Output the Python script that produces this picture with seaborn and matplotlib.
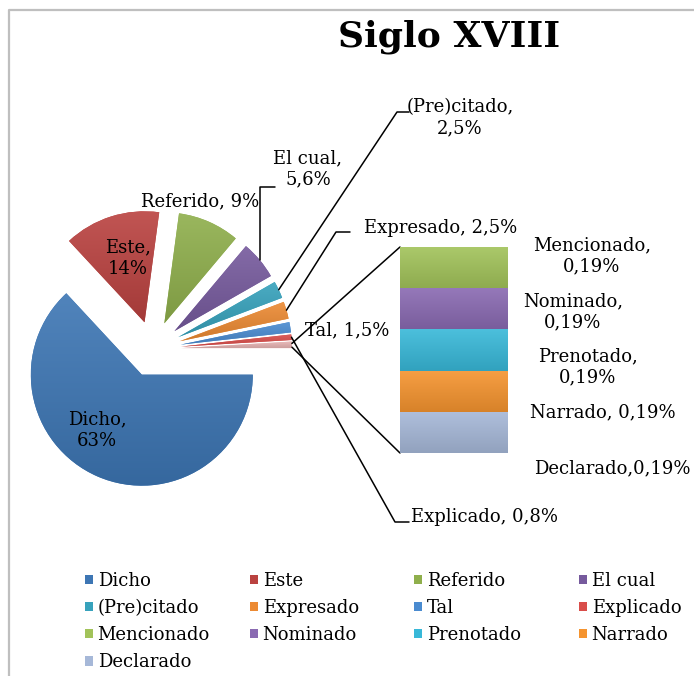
import matplotlib
matplotlib.use("Agg")
import numpy as np
import matplotlib.pyplot as plt
import seaborn as sns
from matplotlib.colors import to_rgb
from matplotlib.patches import Patch

# === Datos (Siglo XVIII)
pie_names = ["Dicho", "Este", "Referido", "El cual", "(Pre)citado",
             "Expresado", "Tal", "Explicado"]
pie_values = [63, 14, 9, 5.6, 2.5, 2.5, 1.5, 0.8]
pie_pct = ["63%", "14%", "9%", "5,6%", "2,5%", "2,5%", "1,5%", "0,8%"]
pie_sep = ["\n", "\n", " ", "\n", "\n", " ", " ", " "]

bar_names = ["Mencionado", "Nominado", "Prenotado", "Narrado", "Declarado"]
bar_values = [0.19, 0.19, 0.19, 0.19, 0.19]
bar_pct = ["0,19%", "0,19%", "0,19%", "0,19%", "0,19%"]
bar_sep = ["\n", "\n", "\n", " ", ""]

# === Estilo
pie_colors = ["#3D76B4", "#BA4240", "#8FAF4C", "#765A9D", "#37A2BC",
              "#EC8A33", "#4A8BD0", "#D94D4A"]
other_color = "#E8B4B3"
bar_colors = ["#A2C35A", "#8A6AB2", "#38B8D8", "#F5942F", "#A6B8D8"]

W, H = 694, 676
FS = 13
sns.set_style("white")
plt.rcParams["font.family"] = ["DejaVu Serif"]
plt.rcParams["text.color"] = "black"

fig = plt.figure(figsize=(W / 100, H / 100), dpi=100)
ax = fig.add_axes([0, 0, 1, 1])


def gradient_fill(axis, patch, color, x0, x1, y_top, y_bot):
    # degradado vertical suave estilo Excel (claro arriba, oscuro abajo)
    c = np.array(to_rgb(color))
    light = c + (1 - c) * 0.10
    dark = c * 0.88
    t = np.linspace(0, 1, 64)[:, None]
    img = (light[None, :] * (1 - t) + dark[None, :] * t)[:, None, :]
    im = axis.imshow(img, extent=(x0, x1, y_bot, y_top), origin="upper",
                     aspect="auto", interpolation="bilinear",
                     zorder=patch.get_zorder() + 0.1)
    im.set_clip_path(patch)


# === Pie (y hacia abajo -> counterclock=True gira en sentido horario)
values = pie_values + [sum(bar_values)]
colors = pie_colors + [other_color]
wedges, _ = ax.pie(values, colors=colors,
                   center=(153, 349), radius=111,
                   explode=[28] * len(values), startangle=0,
                   counterclock=True, wedgeprops=dict(linewidth=0))
for w, c in zip(wedges, colors):
    ext = w.get_path().get_extents()
    gradient_fill(ax, w, c, ext.x0, ext.x1, ext.y0, ext.y1)

ax.set_xlim(0, W)
ax.set_ylim(H, 0)
ax.set_aspect("equal")
ax.axis("off")


def edge_pt(w, ang):
    a = np.deg2rad(ang)
    return w.center[0] + w.r * np.cos(a), w.center[1] + w.r * np.sin(a)


def mid_pt(w):
    return edge_pt(w, 0.5 * (w.theta1 + w.theta2))


# === Barra apilada (otros)
bax = fig.add_axes([400 / W, 1 - 453 / H, 108 / W, 206 / H])
bottom = 0
for name, v, c in zip(bar_names[::-1], bar_values[::-1], bar_colors[::-1]):
    rects = bax.bar(0, v, bottom=bottom, width=1, color=c, linewidth=0)
    gradient_fill(bax, rects[0], c, -0.5, 0.5, bottom + v, bottom)
    bottom += v
bax.set_xlim(-0.5, 0.5)
bax.set_ylim(0, sum(bar_values))
bax.axis("off")

# lineas de conexion pie -> barra
inv = ax.transData.inverted()
top_left = inv.transform(bax.transData.transform((-0.5, sum(bar_values))))
bot_left = inv.transform(bax.transData.transform((-0.5, 0)))
w_other = wedges[-1]
p1 = edge_pt(w_other, w_other.theta1 + 1)
p2 = edge_pt(w_other, w_other.theta2 - 0.5)
ax.plot([p1[0], top_left[0]], [p1[1], top_left[1]], color="black", lw=1.1)
ax.plot([p2[0], bot_left[0]], [p2[1], bot_left[1]], color="black", lw=1.1)

# === Etiquetas del pie
label_pos = [(97, 430), (128, 258), (200, 201), (308, 169), (460, 118),
             (441, 228), (347, 330), (485, 517)]
for name, pct, sep, (x, y) in zip(pie_names, pie_pct, pie_sep, label_pos):
    ax.text(x, y, f"{name},{sep}{pct}", ha="center", va="center",
            fontsize=FS, linespacing=1.25)

# lineas guia
sx, sy = mid_pt(wedges[3])
ax.plot([sx, sx, sx + 15], [sy, 187, 187], color="black", lw=1.1)
sx, sy = mid_pt(wedges[4])
ax.plot([sx, 397, 409], [sy, 112, 112], color="black", lw=1.1)
sx, sy = mid_pt(wedges[5])
ax.plot([sx, 336, 350], [sy, 232, 232], color="black", lw=1.1)
sx, sy = mid_pt(wedges[7])
ax.plot([sx, 395, 409], [sy, 522, 522], color="black", lw=1.1)

# === Etiquetas de la barra
bar_pos = [(592, 256), (573, 312), (588, 367), (603, 412), (612, 468)]
for name, pct, sep, (x, y) in zip(bar_names, bar_pct, bar_sep, bar_pos):
    ax.text(x, y, f"{name},{sep}{pct}", ha="center", va="center",
            fontsize=FS, linespacing=1.25)

# === Titulo
ax.text(449, 37, "Siglo XVIII", ha="center", va="center",
        fontsize=26, fontweight="bold")

# === Borde
ax.plot([9, 9, W], [H, 10, 10], color="#BFBFBF", lw=1.6,
        solid_capstyle="butt")

# === Leyenda (4 columnas, orden por filas)
all_names = pie_names + bar_names
all_colors = pie_colors + bar_colors
col_x = [85, 250, 414, 579]
for ci, x in enumerate(col_x):
    idx = list(range(ci, len(all_names), 4))
    handles = [Patch(facecolor=all_colors[i], linewidth=0) for i in idx]
    fig.legend(handles, [all_names[i] for i in idx], loc="upper left",
               bbox_to_anchor=(x / W, 1 - 572 / H), frameon=False,
               fontsize=FS, handlelength=0.45, handleheight=0.45,
               handletextpad=0.25, labelspacing=0.5,
               borderpad=0, borderaxespad=0)

fig.savefig("out.png", dpi=100)
